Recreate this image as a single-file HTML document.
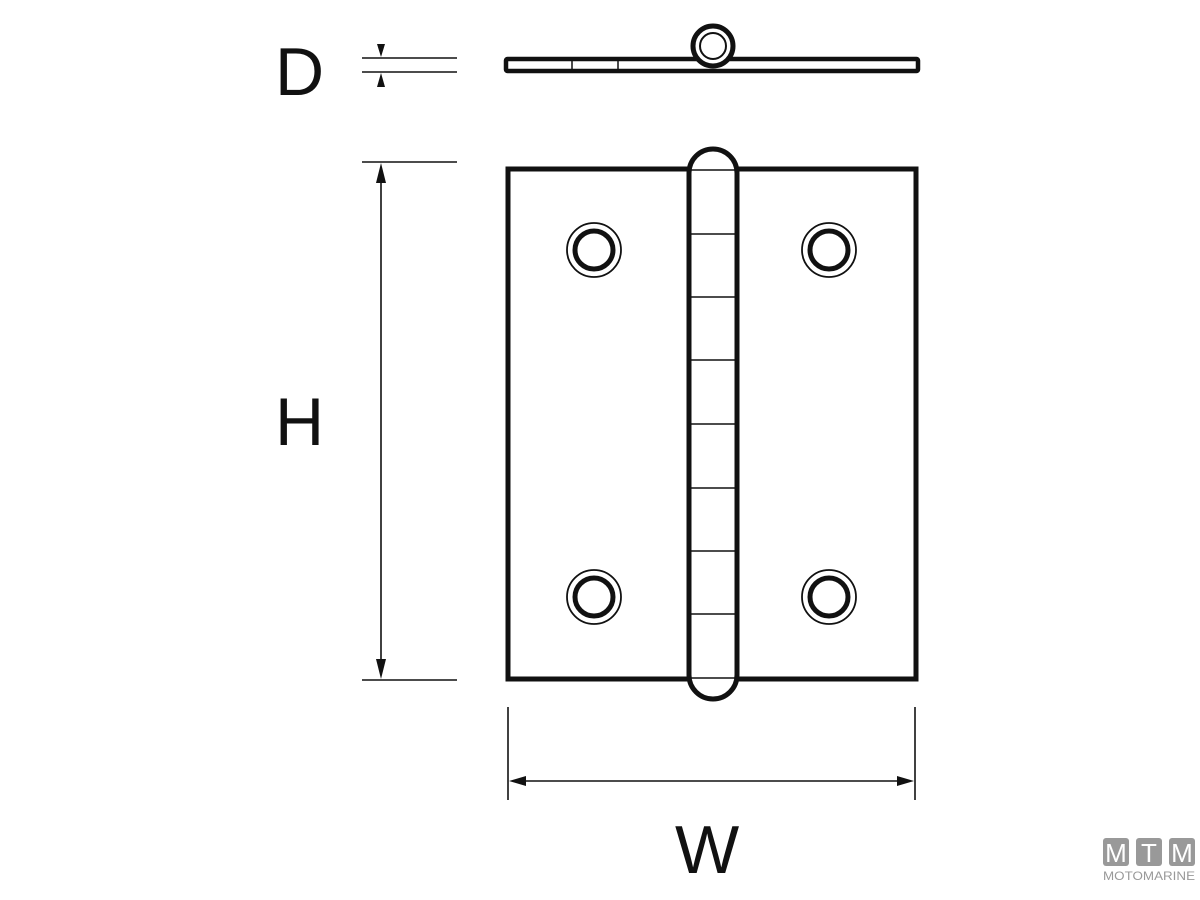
<!DOCTYPE html>
<html><head><meta charset="utf-8"><style>
html,body{margin:0;padding:0;background:#fff;}
svg{display:block}
text{font-family:"Liberation Sans",sans-serif;}
</style></head><body>
<svg width="1200" height="900" viewBox="0 0 1200 900" xmlns="http://www.w3.org/2000/svg">
<text x="275" y="95" font-size="68" fill="#111">D</text>
<text x="275" y="445" font-size="68" fill="#111">H</text>
<text x="675" y="873" font-size="68" fill="#111">W</text>

<g stroke="#111" stroke-width="1.6">
<line x1="362" y1="58" x2="457" y2="58"/>
<line x1="362" y1="72" x2="457" y2="72"/>
</g>
<polygon points="377,44 385,44 381,57" fill="#111"/>
<polygon points="377,87 385,87 381,73" fill="#111"/>

<rect x="506" y="59" width="412" height="12" rx="1.5" fill="#fff" stroke="#111" stroke-width="4.5"/>
<line x1="572" y1="60" x2="572" y2="70" stroke="#111" stroke-width="1.5"/>
<line x1="618" y1="60" x2="618" y2="70" stroke="#111" stroke-width="1.5"/>
<circle cx="713" cy="46" r="20" fill="#fff" stroke="#111" stroke-width="5"/>
<circle cx="713" cy="46" r="13" fill="#fff" stroke="#111" stroke-width="2"/>

<g stroke="#111" stroke-width="1.6">
<line x1="362" y1="162" x2="457" y2="162"/>
<line x1="362" y1="680" x2="457" y2="680"/>
<line x1="381" y1="170" x2="381" y2="672"/>
</g>
<polygon points="376,183 386,183 381,163" fill="#111"/>
<polygon points="376,659 386,659 381,679" fill="#111"/>

<g stroke="#111" stroke-width="1.6">
<line x1="508" y1="707" x2="508" y2="800"/>
<line x1="915" y1="707" x2="915" y2="800"/>
<line x1="515" y1="781" x2="908" y2="781"/>
</g>
<polygon points="509,781 526,776 526,786" fill="#111"/>
<polygon points="914,781 897,776 897,786" fill="#111"/>

<rect x="508" y="169" width="408" height="510" fill="#fff" stroke="#111" stroke-width="5"/>

<path d="M689,675 L689,173 A24,24 0 0 1 737,173 L737,675 A24,24 0 0 1 689,675 Z" fill="#fff" stroke="#111" stroke-width="5"/>
<g stroke="#111" stroke-width="1.5">
<line x1="691" y1="170" x2="735" y2="170"/>
<line x1="691" y1="234" x2="735" y2="234"/>
<line x1="691" y1="297" x2="735" y2="297"/>
<line x1="691" y1="360" x2="735" y2="360"/>
<line x1="691" y1="424" x2="735" y2="424"/>
<line x1="691" y1="488" x2="735" y2="488"/>
<line x1="691" y1="551" x2="735" y2="551"/>
<line x1="691" y1="614" x2="735" y2="614"/>
<line x1="691" y1="678" x2="735" y2="678"/>
</g>

<g fill="#fff" stroke="#111">
<circle cx="594" cy="250" r="27" stroke-width="1.8"/>
<circle cx="594" cy="250" r="19" stroke-width="5"/>
<circle cx="829" cy="250" r="27" stroke-width="1.8"/>
<circle cx="829" cy="250" r="19" stroke-width="5"/>
<circle cx="594" cy="597" r="27" stroke-width="1.8"/>
<circle cx="594" cy="597" r="19" stroke-width="5"/>
<circle cx="829" cy="597" r="27" stroke-width="1.8"/>
<circle cx="829" cy="597" r="19" stroke-width="5"/>
</g>

<g>
<rect x="1103" y="838" width="26" height="28" rx="3" fill="#999"/>
<rect x="1136" y="838" width="26" height="28" rx="3" fill="#999"/>
<rect x="1169" y="838" width="26" height="28" rx="3" fill="#999"/>
<text x="1116" y="862" font-size="26" fill="#fff" text-anchor="middle">M</text>
<text x="1149" y="862" font-size="26" fill="#fff" text-anchor="middle">T</text>
<text x="1182" y="862" font-size="26" fill="#fff" text-anchor="middle">M</text>
<text x="1149" y="880" font-size="12" fill="#999" text-anchor="middle" textLength="92" lengthAdjust="spacingAndGlyphs">MOTOMARINE</text>
</g>
</svg>
</body></html>
